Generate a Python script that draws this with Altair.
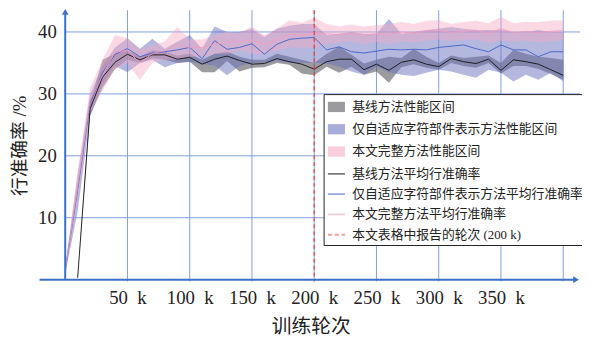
import altair as alt
import pandas as pd

NaN = float("nan")

# training steps (k)
steps_k = list(range(0, 401, 10))

series_names = [
    "基线方法性能区间",
    "仅自适应字符部件表示方法性能区间",
    "本文完整方法性能区间",
    "基线方法平均行准确率",
    "仅自适应字符部件表示方法平均行准确率",
    "本文完整方法平均行准确率",
    "本文表格中报告的轮次 (200 k)",
]

black_mean = [NaN, 0.3, 27.6, 32.7, 35.1, 36.4, 35.5, 36.3, 36.3, 35.6, 35.9, 34.8, 35.6, 36.1, 35.4,
              34.8, 34.9, 35.7, 35.2, 34.8, 34.0, 35.2, 35.6, 35.6, 33.9, 34.8, 33.8, 35.1, 35.5, 34.8,
              34.4, 35.7, 35.2, 34.9, 35.6, 33.8, 35.5, 35.2, 34.8, 33.9, 33.0]
black_lo = [NaN, 0.3, 26.5, 31.0, 34.0, 35.5, 35.0, 35.8, 35.5, 35.0, 35.2, 33.5, 33.5, 35.3, 33.6,
            34.2, 34.3, 35.0, 34.7, 33.3, 33.0, 34.4, 33.4, 34.4, 33.1, 33.6, 31.8, 34.3, 34.8, 34.2,
            33.9, 35.0, 34.5, 34.2, 35.0, 33.3, 34.5, 34.5, 34.0, 33.2, 32.3]
black_hi = [NaN, 0.3, 28.5, 35.5, 36.5, 37.0, 36.0, 37.0, 36.8, 36.2, 36.5, 35.5, 36.5, 36.8, 36.0,
            35.5, 35.5, 36.5, 36.0, 35.5, 35.0, 36.5, 37.6, 36.3, 34.9, 35.5, 36.0, 35.8, 37.3, 36.0,
            35.0, 36.2, 35.8, 36.0, 36.2, 35.0, 37.1, 36.5, 36.0, 35.8, 35.5]

blue_mean = [1.5, 14.5, 28.5, 33.4, 36.4, 37.3, 36.0, 36.6, 36.8, 37.1, 37.5, 35.7, 38.6, 37.2, 37.5,
             38.1, 36.4, 38.0, 38.8, 39.0, 39.1, 37.1, 37.6, 36.8, 36.6, 36.9, 37.2, 37.1, 37.2, 37.1,
             37.5, 37.7, 37.9, 37.3, 36.8, 37.9, 37.1, 37.1, 36.0, 36.8, 36.8]
blue_lo = [1.0, 11.0, 26.5, 31.5, 34.5, 33.5, 35.0, 35.5, 34.3, 35.0, 35.2, 34.8, 34.6, 33.0, 34.5,
           35.0, 35.0, 35.3, 35.0, 35.0, 35.0, 34.9, 34.4, 33.6, 33.1, 34.4, 33.5, 33.1, 32.9, 33.4,
           33.9, 33.6, 33.1, 32.6, 33.9, 33.4, 32.0, 33.1, 32.3, 33.4, 32.0]
blue_hi = [2.0, 17.0, 30.0, 34.5, 37.5, 39.0, 37.3, 38.9, 37.3, 38.4, 39.5, 37.3, 40.9, 40.0, 40.0,
           40.5, 39.2, 40.5, 41.0, 41.3, 41.3, 39.5, 39.7, 40.0, 39.7, 39.7, 42.1, 39.7, 40.0, 40.3,
           40.5, 40.8, 40.5, 40.3, 40.3, 40.3, 40.0, 40.0, 40.3, 40.0, 40.0]

pink_mean = [1.5, 15.0, 29.0, 33.0, 36.8, 37.0, 35.0, 36.5, 37.0, 38.0, 37.5, 37.5, 38.0, 38.3, 38.5,
             38.7, 38.0, 38.8, 39.6, 39.5, 39.9, 39.7, 39.6, 39.8, 39.5, 39.7, 39.6, 40.0, 39.8, 40.2,
             40.3, 39.9, 40.1, 40.3, 39.8, 40.5, 39.9, 40.1, 39.9, 40.1, 40.2]
pink_lo = [1.0, 13.0, 27.0, 30.5, 34.0, 35.0, 32.3, 35.0, 35.5, 35.5, 36.0, 36.0, 36.5, 36.5, 37.0,
           36.5, 36.5, 37.0, 37.5, 37.5, 37.5, 38.0, 38.2, 38.5, 38.0, 38.4, 38.0, 38.5, 38.3, 38.6,
           38.8, 38.5, 38.7, 38.8, 38.2, 38.6, 38.4, 38.6, 38.3, 38.5, 38.6]
pink_hi = [2.0, 17.5, 31.0, 35.5, 39.5, 39.0, 37.2, 37.8, 38.5, 40.8, 38.8, 38.8, 39.5, 40.0, 39.8,
           40.9, 39.5, 40.5, 41.9, 41.5, 42.3, 41.3, 40.9, 41.2, 40.9, 41.1, 41.3, 41.6, 41.3, 41.8,
           41.9, 41.3, 41.6, 41.8, 41.4, 42.4, 41.4, 41.6, 41.6, 41.8, 41.9]

reported_step_k = [200]
x_grid = [50, 100, 150, 200, 250, 300, 350, 400]
x_labels = [50, 100, 150, 200, 250, 300, 350]
y_grid = [10, 20, 30, 40]

# ---- styles ----
FONT = "Liberation Serif, Noto Sans CJK SC"
AXIS_C = "#3b6fc7"
GRID_C = "#7d9fdf"
TEXT_C = "#222222"
RECT_PATH = "M-1,-0.6H1V0.6H-1Z"
LINE_PATH = "M-1,0H1"

fill_scale = alt.Scale(domain=series_names,
                       range=["#5a5a60", "#6a72c0", "#f4a8c4",
                              "transparent", "transparent", "transparent", "transparent"])
stroke_scale = alt.Scale(domain=series_names,
                         range=["transparent", "transparent", "transparent",
                                "#111111", "#3f5fc4", "#f09cc0", "#ee3b36"])
shape_scale = alt.Scale(domain=series_names, range=[RECT_PATH] * 3 + [LINE_PATH] * 4)
dash_scale = alt.Scale(domain=series_names, range=[[1, 0]] * 6 + [[4, 3]])
opacity_scale = alt.Scale(domain=series_names, range=[0.6, 0.5, 0.45, 1, 1, 1, 1])

leg = alt.Legend(title=None, orient="none", legendX=288, legendY=85,
                 fillColor="white", strokeColor="#222222", padding=3, rowPadding=3.6,
                 symbolSize=300, symbolStrokeWidth=1.8, labelFont=FONT, labelFontSize=13,
                 labelColor=TEXT_C, labelLimit=400, labelOffset=6)

x_axis = alt.Axis(
    values=x_labels, labelExpr="datum.value + '\u2002k'", domain=False, ticks=False, grid=False,
    labelFont=FONT, labelFontSize=19, labelColor=TEXT_C, labelPadding=7,
    title="训练轮次", titleFont=FONT, titleFontSize=20, titleFontWeight="normal",
    titleColor=TEXT_C, titleX=275, titleY=46, titleBaseline="middle", titleAlign="center")
y_axis = alt.Axis(
    values=y_grid, domain=False, ticks=False, grid=False, offset=-26,
    labelFont=FONT, labelFontSize=19, labelColor=TEXT_C, labelPadding=9,
    title="行准确率 /%", titleFont=FONT, titleFontSize=19, titleFontWeight="normal",
    titleColor=TEXT_C, titleAngle=270, titleX=-46, titleY=137,
    titleBaseline="middle", titleAlign="center")

# ---- data tables ----
band_rows = []
for name, lo, hi in [(series_names[0], black_lo, black_hi),
                     (series_names[1], blue_lo, blue_hi),
                     (series_names[2], pink_lo, pink_hi)]:
    for k, a, b in zip(steps_k, lo, hi):
        band_rows.append({"k": k, "lo": a, "hi": b, "series": name})
bands = pd.DataFrame(band_rows).dropna()

line_rows = []
for name, vals in [(series_names[3], black_mean),
                   (series_names[4], blue_mean),
                   (series_names[5], pink_mean)]:
    for k, v in zip(steps_k, vals):
        line_rows.append({"k": k, "v": v, "series": name})
lines = pd.DataFrame(line_rows).dropna()

marker = pd.DataFrame({"k": reported_step_k, "series": [series_names[6]]})
legend_df = pd.DataFrame({"series": series_names})

xs = alt.Scale(domain=[-20.6, 413.5], nice=False, zero=False)
ys = alt.Scale(domain=[-0.3, 43.5], nice=False, zero=False)

# grid
vgrid = alt.Chart(pd.DataFrame({"k": x_grid})).mark_rule(color=GRID_C, strokeWidth=1).encode(
    x=alt.X("k:Q", scale=xs, axis=x_axis),
)
hgrid = alt.Chart(pd.DataFrame({"v": y_grid})).mark_rule(color=GRID_C, strokeWidth=1).encode(
    y=alt.Y("v:Q", scale=ys, axis=y_axis),
    x=alt.datum(0, scale=xs, axis=x_axis),
    x2=alt.value(548),
)

band_layers = []
for name, op in zip(series_names[:3], [0.6, 0.5, 0.45]):
    band_layers.append(
        alt.Chart(bands).transform_filter(alt.datum.series == name)
        .mark_area(fillOpacity=op, strokeWidth=0)
        .encode(x=alt.X("k:Q", scale=xs, axis=x_axis),
                y=alt.Y("lo:Q", scale=ys, axis=y_axis), y2="hi:Q",
                fill=alt.Fill("series:N", scale=fill_scale, legend=leg))
    )

line_layers = []
for name in series_names[3:6]:
    line_layers.append(
        alt.Chart(lines).transform_filter(alt.datum.series == name)
        .mark_line(strokeWidth=0.9)
        .encode(x=alt.X("k:Q", scale=xs, axis=x_axis),
                y=alt.Y("v:Q", scale=ys, axis=y_axis),
                stroke=alt.Stroke("series:N", scale=stroke_scale, legend=leg))
    )

red_rule = alt.Chart(marker).mark_rule(strokeWidth=1.2).encode(
    x=alt.X("k:Q", scale=xs, axis=x_axis),
    stroke=alt.Stroke("series:N", scale=stroke_scale, legend=leg),
    strokeDash=alt.StrokeDash("series:N", scale=dash_scale, legend=leg),
)

x_axis_line = alt.Chart().mark_rule(color=AXIS_C, strokeWidth=2).encode(
    y=alt.datum(0, scale=ys, axis=y_axis), x=alt.value(0), x2=alt.value(543))
x_arrow = alt.Chart().mark_point(shape="triangle-right", filled=True, color=AXIS_C,
                                 size=45, opacity=1).encode(
    y=alt.datum(0, scale=ys, axis=y_axis), x=alt.value(544))
y_axis_line = alt.Chart().mark_rule(color=AXIS_C, strokeWidth=2).encode(
    x=alt.datum(0, scale=xs, axis=x_axis), y=alt.datum(0, scale=ys, axis=y_axis), y2=alt.value(3))
y_arrow = alt.Chart().mark_point(shape="triangle-up", filled=True, color=AXIS_C,
                                 size=45, opacity=1).encode(
    x=alt.datum(0, scale=xs, axis=x_axis), y=alt.value(1.5))

legend_layer = alt.Chart(legend_df).mark_point(filled=True, clip=True, strokeWidth=1.8).encode(
    x=alt.value(-300), y=alt.value(-300),
    fill=alt.Fill("series:N", scale=fill_scale, legend=leg),
    stroke=alt.Stroke("series:N", scale=stroke_scale, legend=leg),
    shape=alt.Shape("series:N", scale=shape_scale, legend=leg),
    strokeDash=alt.StrokeDash("series:N", scale=dash_scale, legend=leg),
    opacity=alt.Opacity("series:N", scale=opacity_scale, legend=leg),
)

chart = alt.layer(
    vgrid, hgrid, *band_layers, *line_layers, red_rule,
    x_axis_line, x_arrow, y_axis_line, y_arrow, legend_layer,
).properties(
    width=548, height=275,
    padding={"left": 32, "top": 0, "right": 2, "bottom": 57},
    autosize=alt.AutoSizeParams(type="none"),
    background="white",
).configure_view(stroke=None)

chart.save("out.html", embed_options={"renderer": "svg", "actions": False})
